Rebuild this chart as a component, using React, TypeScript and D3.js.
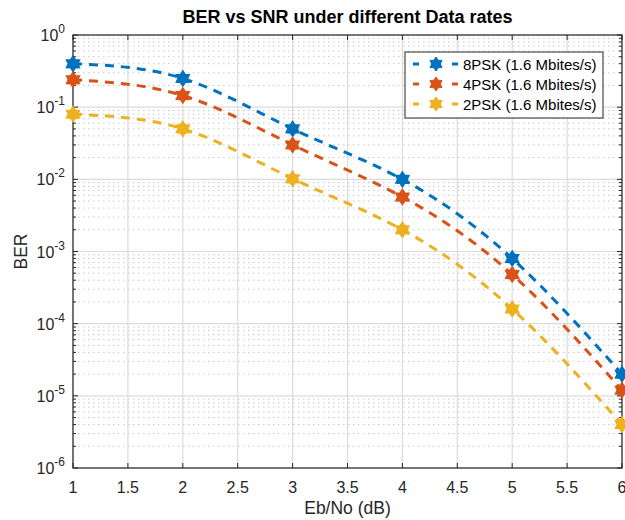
import React from "react";
import * as d3 from "d3";

const snr = [1, 2, 3, 4, 5, 6];
const ber8 = [0.4, 0.25, 0.05, 0.01, 0.0008, 0.00002];
const ber4 = [0.24, 0.145, 0.03, 0.0057, 0.00048, 0.000012];
const ber2 = [0.08, 0.05, 0.0102, 0.002, 0.00016, 0.000004];
const seriesNames = ["8PSK (1.6 Mbites/s)", "4PSK (1.6 Mbites/s)", "2PSK (1.6 Mbites/s)"];
const seriesColors = ["#0072BD", "#D95319", "#EDB120"];
const xTicks = [1, 1.5, 2, 2.5, 3, 3.5, 4, 4.5, 5, 5.5, 6];
const yExps = [0, -1, -2, -3, -4, -5, -6];

const W = 625, H = 520;
const L = 73, R = 622, T = 35, B = 468;
const FONT = "'Liberation Sans', Arial, Helvetica, sans-serif";

function hexagram(cx: number, cy: number, r: number) {
  const pts: string[] = [];
  for (let i = 0; i < 12; i++) {
    const a = (Math.PI / 6) * i - Math.PI / 2;
    const rr = i % 2 === 0 ? r : r * 0.62;
    pts.push(`${cx + rr * Math.cos(a)},${cy + rr * Math.sin(a)}`);
  }
  return pts.join(" ");
}

export default function App() {
  const x = d3.scaleLinear().domain([1, 6]).range([L, R]);
  const y = d3.scaleLog().domain([1e-6, 1]).range([B, T]);
  const allSeries = [ber8, ber4, ber2];
  const line = d3
    .line<number>()
    .x((_, i) => x(snr[i]))
    .y((v) => y(v))
    .curve(d3.curveNatural);

  const minor: number[] = [];
  for (let e = -6; e < 0; e++) {
    for (let k = 2; k <= 9; k++) minor.push(k * Math.pow(10, e));
  }

  return (
    <svg width={W} height={H} style={{ position: "absolute", left: 0, top: 0, background: "#fff" }}>
      <rect x={0} y={0} width={W} height={H} fill="#fff" />
      {minor.map((v, i) => (
        <line key={"mg" + i} x1={L} x2={R} y1={y(v)} y2={y(v)} stroke="#c8c8c8" strokeWidth={1} strokeDasharray="1.5,3.5" />
      ))}
      {yExps.map((e) => (
        <line key={"gy" + e} x1={L} x2={R} y1={y(Math.pow(10, e))} y2={y(Math.pow(10, e))} stroke="#dcdcdc" strokeWidth={1.2} />
      ))}
      {xTicks.map((t) => (
        <line key={"gx" + t} x1={x(t)} x2={x(t)} y1={T} y2={B} stroke="#dcdcdc" strokeWidth={1.2} />
      ))}
      <rect x={L} y={T} width={R - L} height={B - T} fill="none" stroke="#262626" strokeWidth={1.2} />
      {xTicks.map((t) => (
        <g key={"xt" + t}>
          <line x1={x(t)} x2={x(t)} y1={B} y2={B - 5} stroke="#262626" />
          <line x1={x(t)} x2={x(t)} y1={T} y2={T + 5} stroke="#262626" />
          <text x={x(t)} y={B + 25} textAnchor="middle" fontFamily={FONT} fontSize={16} fill="#262626">
            {t}
          </text>
        </g>
      ))}
      {yExps.map((e) => (
        <g key={"yt" + e}>
          <line x1={L} x2={L + 5} y1={y(Math.pow(10, e))} y2={y(Math.pow(10, e))} stroke="#262626" />
          <line x1={R} x2={R - 5} y1={y(Math.pow(10, e))} y2={y(Math.pow(10, e))} stroke="#262626" />
          <text x={L - 8} y={y(Math.pow(10, e)) + 6} textAnchor="end" fontFamily={FONT} fontSize={16} fill="#262626">
            10
            <tspan dy={-8} fontSize={12}>
              {e}
            </tspan>
          </text>
        </g>
      ))}
      {minor.map((v, i) => (
        <g key={"mt" + i}>
          <line x1={L} x2={L + 3} y1={y(v)} y2={y(v)} stroke="#262626" />
          <line x1={R} x2={R - 3} y1={y(v)} y2={y(v)} stroke="#262626" />
        </g>
      ))}
      {allSeries.map((s, si) => (
        <g key={"s" + si}>
          <path d={line(s) || ""} fill="none" stroke={seriesColors[si]} strokeWidth={3} strokeDasharray="9,7" />
          {s.map((v, i) => (
            <polygon key={i} points={hexagram(x(snr[i]), y(v), 7.5)} fill={seriesColors[si]} stroke={seriesColors[si]} strokeWidth={1.5} />
          ))}
        </g>
      ))}
      <rect x={405} y={52} width={198} height={66} fill="#fff" stroke="#262626" strokeWidth={1} />
      {seriesNames.map((n, i) => {
        const ly = 64 + i * 20;
        return (
          <g key={"lg" + i}>
            <line x1={413} x2={419} y1={ly} y2={ly} stroke={seriesColors[i]} strokeWidth={3} />
            <line x1={452} x2={458} y1={ly} y2={ly} stroke={seriesColors[i]} strokeWidth={3} />
            <polygon points={hexagram(436, ly, 7)} fill={seriesColors[i]} stroke={seriesColors[i]} strokeWidth={1} />
            <text x={463} y={ly + 5.5} fontFamily={FONT} fontSize={15} fill="#000">
              {n}
            </text>
          </g>
        );
      })}
      <text x={(L + R) / 2} y={23} textAnchor="middle" fontFamily={FONT} fontSize={18} fontWeight="bold" fill="#000">
        BER vs SNR under different Data rates
      </text>
      <text x={(L + R) / 2} y={514} textAnchor="middle" fontFamily={FONT} fontSize={17.5} fill="#262626">
        Eb/No (dB)
      </text>
      <text transform={`translate(27, ${(T + B) / 2}) rotate(-90)`} textAnchor="middle" fontFamily={FONT} fontSize={17.5} fill="#262626">
        BER
      </text>
    </svg>
  );
}
